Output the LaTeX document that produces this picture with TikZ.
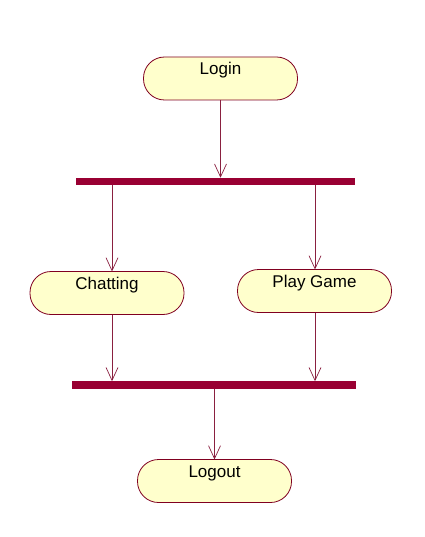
\documentclass[tikz,border=0pt]{standalone}
\usepackage{fontspec}
\setmainfont{Liberation Sans}
\usetikzlibrary{arrows.meta}
\definecolor{actfill}{HTML}{FFFFCC}
\definecolor{actline}{HTML}{800020}
\definecolor{barcol}{HTML}{990033}
\definecolor{arrcol}{HTML}{8A2040}
\tikzset{
  x=1pt,y=-1pt,
  activity/.style={draw=actline,fill=actfill,line width=0.8pt,rounded corners=21pt,
    minimum width=154pt,minimum height=43pt,inner sep=0pt,outer sep=0pt},
  label/.style={font=\fontsize{17}{19}\selectfont,inner sep=0pt,anchor=base},
  syncbar/.style={fill=barcol,draw=none,inner sep=0pt,outer sep=0pt,minimum height=7.5pt},
  flow/.style={draw=arrcol,line width=0.7pt,-{Straight Barb[length=13pt,width=12pt,line width=0.7pt]}}
}
\begin{document}
\begin{tikzpicture}
\useasboundingbox (0,0) rectangle (424,537);
% activities
\node[activity] (login) at (220.5,78.5) {};
\node[label] (tLogin) at (220.5,75) {Login};

\node[activity] (chat) at (107,293) {};
\node[label] (tChat) at (107,289) {Chatting};

\node[activity] (play) at (314.5,291) {};
\node[label] (tPlay) at (314.5,287) {Play Game};

\node[activity] (logout) at (214.5,481) {};
\node[label] (tLogout) at (214.5,477) {Logout};

% synchronisation bars
\node[syncbar,minimum width=279pt] (bar1) at (215.5,181.5) {};
\node[syncbar,minimum width=284pt] (bar2) at (214,385) {};

% connectors
\draw[flow] (login.south) -- (login.south |- bar1.north);
\draw[flow] (bar1.south -| 112,0) -- (chat.north -| 112,0);
\draw[flow] (bar1.south -| 315,0) -- (play.north -| 315,0);
\draw[flow] (chat.south -| 112,0) -- (bar2.north -| 112,0);
\draw[flow] (play.south -| 315,0) -- (bar2.north -| 315,0);
\draw[flow] (bar2.south -| logout.north) -- (logout.north);
\end{tikzpicture}
\end{document}
